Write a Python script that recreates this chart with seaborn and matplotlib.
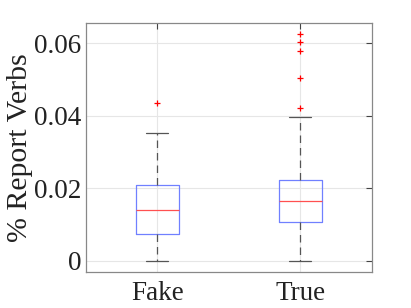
import matplotlib
matplotlib.use("Agg")
import matplotlib.pyplot as plt
import seaborn as sns

categories = ["Fake", "True"]
q1 = [0.0075, 0.0108]
medians = [0.0140, 0.0165]
q3 = [0.0209, 0.0224]
whisker_low = [0.0, 0.0]
whisker_high = [0.0352, 0.0396]
outliers = [[0.0435], [0.0422, 0.0505, 0.0579, 0.0603, 0.0626]]
yticks = [0, 0.02, 0.04, 0.06]
ytick_labels = ["0", "0.02", "0.04", "0.06"]

sns.set_style("white")
plt.rcParams['font.family'] = ['Liberation Serif', 'DejaVu Serif']

stats = []
for i, c in enumerate(categories):
    stats.append(dict(label=c, q1=q1[i], med=medians[i], q3=q3[i],
                      whislo=whisker_low[i], whishi=whisker_high[i],
                      fliers=outliers[i]))

fig = plt.figure(figsize=(4.11, 3.08), dpi=100)
ax = fig.add_axes([85.7/411, 1 - 271.7/308, (371.7-85.7)/411, (271.7-22.7)/308])

ax.bxp(stats, positions=[1, 2], widths=0.3, showfliers=True,
       boxprops=dict(color='#7080ff', linewidth=0.9),
       medianprops=dict(color='#ff5050', linewidth=0.9),
       whiskerprops=dict(color='#555555', linewidth=0.9, linestyle=(0, (6, 4))),
       capprops=dict(color='#555555', linewidth=0.9),
       flierprops=dict(marker='+', markeredgecolor='red', markersize=4.5,
                       markeredgewidth=0.9, linestyle='none'))

ax.set_xlim(0.5, 2.5)
ax.set_ylim(-0.003, 0.0657)
ax.set_yticks(yticks)
ax.set_yticklabels(ytick_labels)
ax.set_xticks([1, 2])
ax.set_xticklabels(categories)
ax.set_ylabel("% Report Verbs", fontsize=21.5, labelpad=1)
ax.tick_params(axis='both', labelsize=19.5, direction='in', length=4,
               color='#444444', top=True, right=True)
ax.tick_params(axis='y', pad=3)
ax.tick_params(axis='x', pad=7)
ax.grid(True, color='#e6e6e6', linewidth=0.8)
ax.set_axisbelow(True)
for sp in ax.spines.values():
    sp.set_color('#888888')
    sp.set_linewidth(0.9)
for lab in ax.get_xticklabels() + ax.get_yticklabels():
    lab.set_color('#222222')
ax.yaxis.label.set_color('#222222')

fig.savefig("out.png", dpi=100)
